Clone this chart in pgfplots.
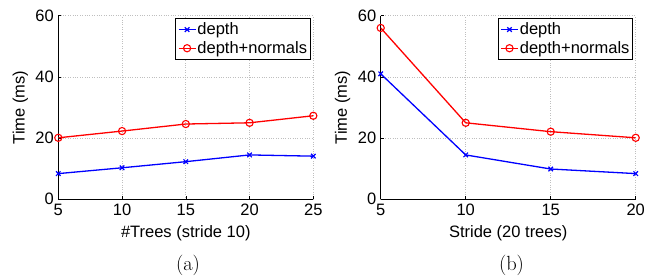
\documentclass[border=0pt]{standalone}
\usepackage{fontspec}
\setsansfont{Liberation Sans}
\usepackage{pgfplots}
\pgfplotsset{compat=1.18}
\pgfplotstableread{
x d n
5 8.4 20.1
10 10.3 22.3
15 12.3 24.6
20 14.5 25.0
25 14.1 27.3
}\treesdata
\pgfplotstableread{
x d n
5 41.0 56.0
10 14.5 25.0
15 9.9 22.1
20 8.4 20.1
}\stridedata
\newcommand{\tfont}{\fontsize{16.5bp}{19bp}\selectfont\sffamily}
\pgfplotsset{
  mystyle/.style={
    scale only axis, width=255bp, height=183.6bp,
    anchor=south west,
    axis x line*=bottom, axis y line*=left,
    axis line style={black, line width=0.8bp},
    ymin=0, ymax=60, ytick={0,20,40,60},
    tick align=inside, major tick length=3bp,
    tick style={black, line width=0.6bp},
    grid=major,
    grid style={dotted, gray!50, line width=0.7bp},
    /pgf/number format/assume math mode=true,
    tick label style={font=\tfont},
    xticklabel style={yshift=-1bp},
    yticklabel style={xshift=-1bp},
    every axis y label/.style={at={(rel axis cs:0,0.5)}, xshift=-38bp, rotate=90, anchor=center, font=\tfont},
    every axis x label/.style={at={(rel axis cs:0.5,0)}, yshift=-34bp, anchor=center, font=\tfont},
    ylabel={Time (ms)},
    legend style={at={(rel axis cs:1,1)}, xshift=-2.6bp, yshift=-2.6bp, anchor=north east,
      draw=black, line width=0.9bp, fill=white, font=\tfont,
      inner xsep=2bp, inner ysep=1.5bp, row sep=0bp,
      nodes={inner xsep=1.2bp, inner ysep=2.6bp}},
    legend cell align=left,
    legend image code/.code={\draw[mark repeat=2,mark phase=2] plot coordinates {(0bp,0bp) (8.5bp,0bp) (17bp,0bp)};},
  },
  dline/.style={blue, line width=1.3bp, mark=x, mark size=3.2bp, mark options={line width=1.2bp}},
  nline/.style={red, line width=1.3bp, mark=o, mark size=3.6bp, mark options={line width=1.1bp}},
}
\begin{document}
\begin{tikzpicture}[x=1bp,y=1bp]
\useasboundingbox (0,0) rectangle (655,279);
\begin{axis}[mystyle, at={(58.3bp,79.7bp)},
  xmin=5, xmax=25, xtick={5,10,15,20,25},
  xlabel={\#Trees (stride 10)}]
\addplot[dline] table[x=x,y=d] {\treesdata};
\addlegendentry{depth}
\addplot[nline] table[x=x,y=n] {\treesdata};
\addlegendentry{depth+normals}
\end{axis}
\begin{axis}[mystyle, at={(380.7bp,79.7bp)},
  xmin=5, xmax=20, xtick={5,10,15,20},
  xlabel={Stride (20 trees)}]
\addplot[dline] table[x=x,y=d] {\stridedata};
\addlegendentry{depth}
\addplot[nline] table[x=x,y=n] {\stridedata};
\addlegendentry{depth+normals}
\end{axis}
\node[font=\fontsize{20.5bp}{24bp}\selectfont, anchor=base] at (188,9) {(a)};
\node[font=\fontsize{20.5bp}{24bp}\selectfont, anchor=base] at (511.5,9) {(b)};
\end{tikzpicture}
\end{document}
